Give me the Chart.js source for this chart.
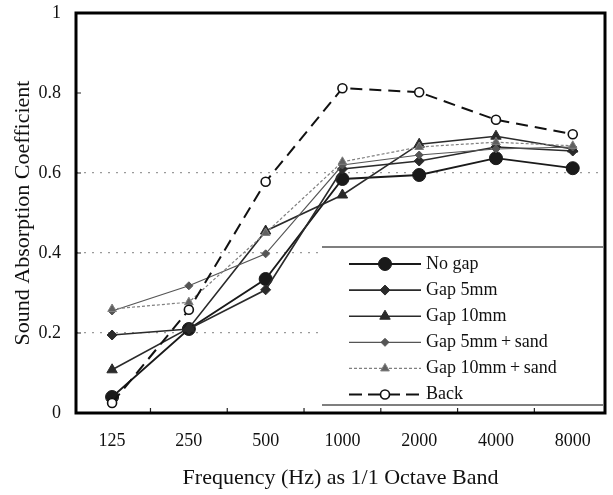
<!DOCTYPE html>
<html>
<head>
<meta charset="utf-8">
<script src="https://cdn.jsdelivr.net/npm/chart.js@4/dist/chart.umd.min.js"></script>
<style>
  html, body { margin: 0; padding: 0; background: #fff; }
  #wrap { width: 613px; height: 495px; }
</style>
</head>
<body>
<div id="wrap"><canvas id="c" width="613" height="495"></canvas></div>
<script>
// ---- data ----
const freqLabels = ["125", "250", "500", "1000", "2000", "4000", "8000"];
const yTickValues = [0, 0.2, 0.4, 0.6, 0.8, 1];
const seriesNames = ["No gap", "Gap 5mm", "Gap 10mm", "Gap 5mm\u2009+\u2009sand", "Gap 10mm\u2009+\u2009sand", "Back"];
const noGap      = [0.040, 0.210, 0.335, 0.585, 0.595, 0.637, 0.612];
const gap5       = [0.195, 0.210, 0.308, 0.610, 0.630, 0.665, 0.655];
const gap10      = [0.108, 0.212, 0.455, 0.545, 0.672, 0.692, 0.660];
const gap5sand   = [0.255, 0.318, 0.398, 0.620, 0.645, 0.660, 0.665];
const gap10sand  = [0.260, 0.277, 0.450, 0.628, 0.665, 0.677, 0.668];
const back       = [0.025, 0.258, 0.578, 0.812, 0.802, 0.733, 0.697];

const SERIF = '"Liberation Serif", "DejaVu Serif", serif';

function pts(arr) { return arr.map((v, i) => ({ x: i, y: v })); }

const styles = [
  { color: '#1a1a1a', width: 1.8, dash: [],     point: 'circle',   r: 6.5, fill: '#1a1a1a' },
  { color: '#2a2a2a', width: 1.6, dash: [],     point: 'rectRot',  r: 5,   fill: '#2a2a2a' },
  { color: '#2a2a2a', width: 1.6, dash: [],     point: 'triangle', r: 6,   fill: '#2a2a2a' },
  { color: '#555555', width: 1.2, dash: [],     point: 'rectRot',  r: 4,   fill: '#555555' },
  { color: '#808080', width: 1.2, dash: [3, 2], point: 'triangle', r: 5,   fill: '#606060' },
  { color: '#111111', width: 2,   dash: [12, 7], point: 'circle',  r: 4.5, fill: '#ffffff' }
];
const seriesData = [noGap, gap5, gap10, gap5sand, gap10sand, back];

const datasets = seriesData.map((arr, k) => ({
  label: seriesNames[k],
  data: pts(arr),
  borderColor: styles[k].color,
  borderWidth: styles[k].width,
  borderDash: styles[k].dash,
  pointStyle: styles[k].point,
  pointRadius: styles[k].r,
  pointBackgroundColor: styles[k].fill,
  pointBorderColor: k === 5 ? '#111' : styles[k].color,
  pointBorderWidth: k === 5 ? 1.6 : 1,
  tension: 0,
  fill: false,
  order: 6 - k
}));

function drawMarker(ctx, st, x, y) {
  ctx.save();
  ctx.setLineDash([]);
  ctx.fillStyle = st.fill;
  ctx.strokeStyle = st.fill === '#ffffff' ? '#111' : st.color;
  ctx.lineWidth = st.fill === '#ffffff' ? 1.6 : 1;
  ctx.beginPath();
  const r = st.r;
  if (st.point === 'circle') {
    ctx.arc(x, y, r, 0, Math.PI * 2);
  } else if (st.point === 'rectRot') {
    ctx.moveTo(x, y - r); ctx.lineTo(x + r, y); ctx.lineTo(x, y + r); ctx.lineTo(x - r, y);
    ctx.closePath();
  } else if (st.point === 'triangle') {
    ctx.moveTo(x, y - r); ctx.lineTo(x + r * 0.87, y + r * 0.5); ctx.lineTo(x - r * 0.87, y + r * 0.5);
    ctx.closePath();
  }
  ctx.fill(); ctx.stroke();
  ctx.restore();
}

const framePlugin = {
  id: 'frame',
  afterDatasetsDraw(chart) {
    const ctx = chart.ctx, a = chart.chartArea;
    const ys = chart.scales.y, xs = chart.scales.x;
    // legend box
    const bx0 = 322, bx1 = a.right - 2;
    const byTop = ys.getPixelForValue(0.415), byBot = ys.getPixelForValue(0.02);
    ctx.save();
    ctx.fillStyle = '#fff';
    ctx.fillRect(bx0, byTop, bx1 - bx0, byBot - byTop);
    ctx.strokeStyle = '#555';
    ctx.lineWidth = 1.4;
    ctx.beginPath();
    ctx.moveTo(bx0, byTop); ctx.lineTo(bx1, byTop);
    ctx.moveTo(bx0, byBot); ctx.lineTo(bx1, byBot);
    ctx.stroke();
    const rowGap = (byBot - byTop) / 6.05;
    ctx.font = '18px ' + SERIF;
    ctx.textBaseline = 'middle';
    ctx.textAlign = 'left';
    chart.data.datasets.forEach((ds, k) => {
      const st = styles[k];
      const y = byTop + rowGap * (k + 0.65);
      ctx.save();
      ctx.strokeStyle = st.color;
      ctx.lineWidth = st.width;
      if (k === 5) ctx.setLineDash([13, 6]); else ctx.setLineDash(st.dash);
      ctx.beginPath();
      ctx.moveTo(349, y); ctx.lineTo(421, y);
      ctx.stroke();
      ctx.restore();
      drawMarker(ctx, st, 385, y);
      ctx.fillStyle = '#111';
      ctx.fillText(ds.label, 426, y);
    });
    // inward tick marks
    ctx.strokeStyle = '#222';
    ctx.lineWidth = 1.2;
    ctx.beginPath();
    yTickValues.forEach(v => {
      const py = ys.getPixelForValue(v);
      ctx.moveTo(a.left, py); ctx.lineTo(a.left + 5, py);
    });
    for (let i = 0; i < freqLabels.length - 1; i++) {
      const px = xs.getPixelForValue(i + 0.5);
      ctx.moveTo(px, a.bottom); ctx.lineTo(px, a.bottom - 5);
    }
    ctx.stroke();
    // plot border
    ctx.strokeStyle = '#000';
    ctx.lineWidth = 3;
    ctx.strokeRect(a.left, a.top, a.right - a.left, a.bottom - a.top);
    ctx.restore();
  }
};

new Chart(document.getElementById('c'), {
  type: 'line',
  data: { datasets },
  options: {
    responsive: false,
    animation: false,
    layout: { padding: { top: 13, right: 8, left: 0, bottom: 0 } },
    plugins: { legend: { display: false }, tooltip: { enabled: false } },
    scales: {
      x: {
        type: 'linear',
        min: -0.47,
        max: 6.42,
        afterBuildTicks(scale) { scale.ticks = freqLabels.map((_, i) => ({ value: i })); },
        afterFit(scale) { scale.height = 82; scale.paddingLeft = 0; scale.paddingRight = 0; },
        grid: { display: false, drawTicks: false },
        border: { display: false },
        ticks: {
          padding: 17,
          color: '#111',
          font: { family: SERIF, size: 18 },
          maxRotation: 0,
          autoSkip: false,
          callback: (v) => freqLabels[v] !== undefined ? freqLabels[v] : ''
        },
        title: {
          display: true,
          text: 'Frequency (Hz) as 1/1 Octave Band',
          color: '#111',
          font: { family: SERIF, size: 22 },
          padding: { top: 0, bottom: 4 }
        }
      },
      y: {
        min: 0,
        max: 1,
        afterBuildTicks(scale) { scale.ticks = yTickValues.map(v => ({ value: v })); },
        afterFit(scale) { scale.width = 76; scale.paddingTop = 0; scale.paddingBottom = 0; },
        grid: {
          drawTicks: false,
          color: (c) => (c.tick && [0.2, 0.4, 0.6].some(g => Math.abs(c.tick.value - g) < 1e-6)) ? '#9a9a9a' : 'rgba(0,0,0,0)',
          lineWidth: 1.3
        },
        border: { display: false, dash: [2, 6] },
        ticks: {
          padding: 15,
          color: '#111',
          font: { family: SERIF, size: 18 },
          callback: (v) => (v === 0 ? '0' : v === 1 ? '1' : v.toFixed(1))
        },
        title: {
          display: true,
          text: 'Sound Absorption Coefficient',
          color: '#111',
          font: { family: SERIF, size: 22 },
          padding: { top: 10, bottom: 0 }
        }
      }
    }
  },
  plugins: [framePlugin]
});
</script>
</body>
</html>
